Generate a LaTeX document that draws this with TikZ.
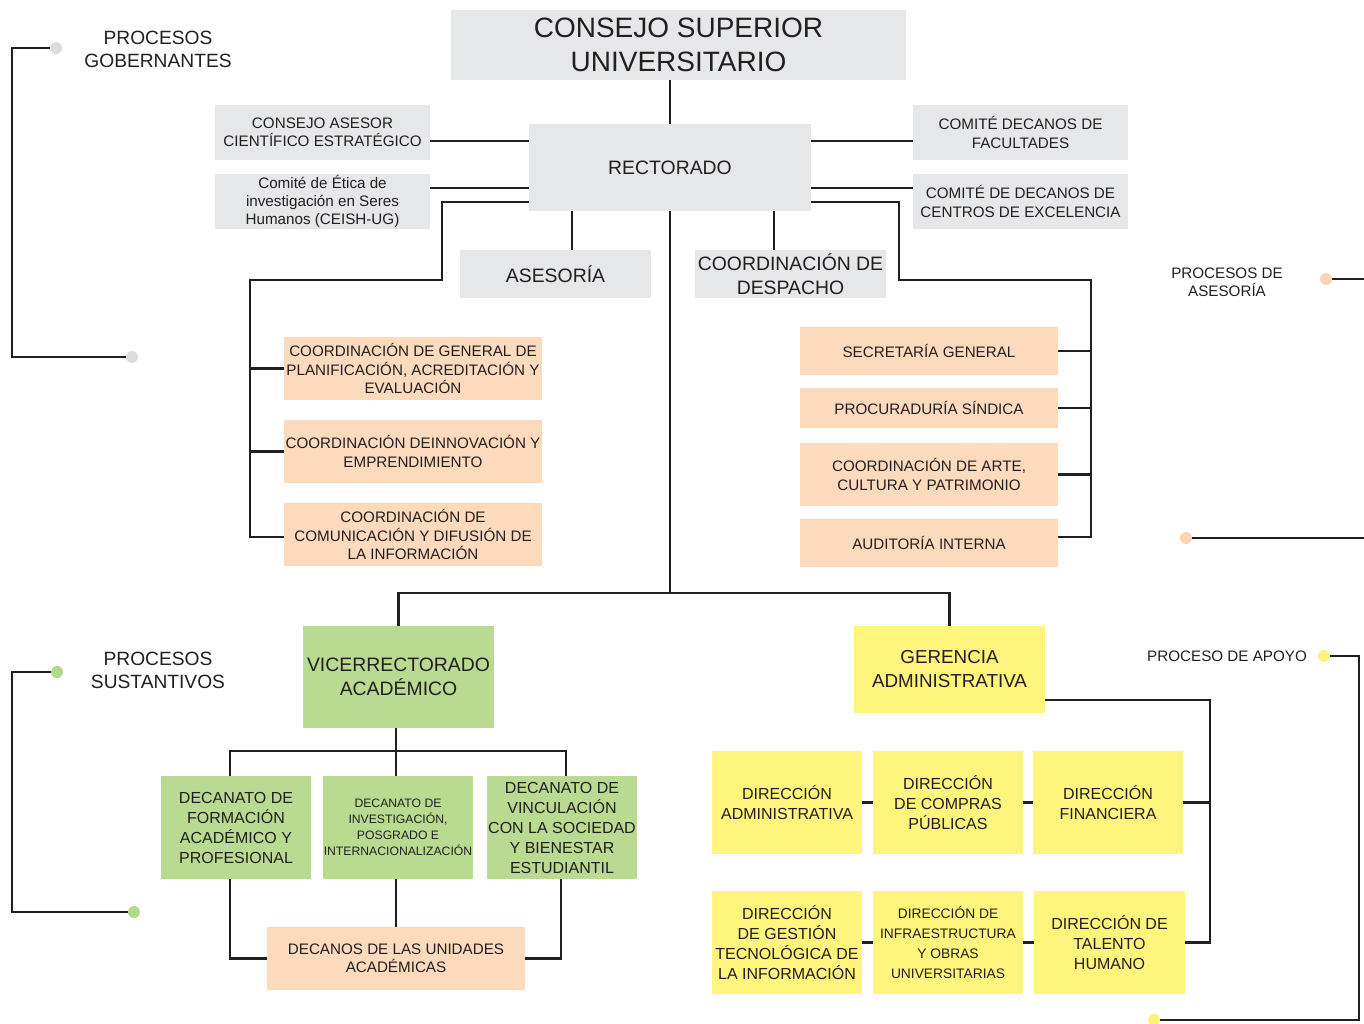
\documentclass[tikz,border=0pt]{standalone}
\usepackage{fontspec}
\setmainfont{Liberation Sans}
\usetikzlibrary{calc}

\definecolor{fgris}{HTML}{E6E7E8}
\definecolor{fnar}{HTML}{FDDABB}
\definecolor{fver}{HTML}{B9DA91}
\definecolor{fama}{HTML}{FFF47C}
\definecolor{tinta}{HTML}{231F20}
\definecolor{pgris}{HTML}{DCDDDE}
\definecolor{pnar}{HTML}{FDD5B4}
\definecolor{pver}{HTML}{B4D88C}
\definecolor{pama}{HTML}{FFF27A}

\tikzset{
  caja/.style={inner sep=0pt, align=center, text=tinta},
  bgris/.style={caja, fill=fgris},
  bnar/.style={caja, fill=fnar},
  bver/.style={caja, fill=fver},
  bama/.style={caja, fill=fama},
  linea/.style={draw=tinta, line width=1.25pt},
  chica/.style={font=\fontsize{7.6}{9.2}\selectfont},
  media/.style={font=\fontsize{8}{10}\selectfont},
  grande/.style={font=\fontsize{9.7}{12}\selectfont},
}

\begin{document}
\begin{tikzpicture}[x=0.5pt,y=-0.5pt]
        \useasboundingbox (0,0) rectangle (1364,1023);

        % consejo, rectorado y comites
        \node[bgris, minimum width=227.5pt, minimum height=35pt, font=\fontsize{14}{17}\selectfont] (csu) at (678.5,45) {CONSEJO SUPERIOR\\UNIVERSITARIO};
        \node[bgris, grande, minimum width=141pt, minimum height=43.5pt] (rect) at (670,167.5) {RECTORADO};
        \node[bgris, chica, minimum width=107.5pt, minimum height=27.5pt] (asesor) at (322.5,132.5) {CONSEJO ASESOR\\CIENTÍFICO ESTRATÉGICO};
        \node[bgris, chica, minimum width=107.5pt, minimum height=27.5pt] (etica) at (322.5,201.5) {Comité de Ética de\\investigación en Seres\\Humanos (CEISH-UG)};
        \node[bgris, chica, minimum width=107.5pt, minimum height=27.5pt] (facult) at (1020.5,132.5) {COMITÉ DECANOS DE\\FACULTADES};
        \node[bgris, chica, minimum width=107.5pt, minimum height=27.5pt] (centros) at (1020.5,201.5) {COMITÉ DE DECANOS DE\\CENTROS DE EXCELENCIA};
        \node[bgris, grande, minimum width=95.5pt, minimum height=24pt] (asesoria) at (555.5,274) {ASESORÍA};
        \node[bgris, grande, minimum width=95.5pt, minimum height=24pt] (despacho) at (790.5,274) {COORDINACIÓN DE\\DESPACHO};

        % coordinaciones
        \node[bnar, chica, minimum width=129pt, minimum height=31.5pt] (planif) at (413,368.5) {COORDINACIÓN DE GENERAL DE\\PLANIFICACIÓN, ACREDITACIÓN Y\\EVALUACIÓN};
        \node[bnar, chica, minimum width=129pt, minimum height=31.5pt] (innov) at (413,451.5) {COORDINACIÓN DEINNOVACIÓN Y\\EMPRENDIMIENTO};
        \node[bnar, chica, minimum width=129pt, minimum height=31.5pt] (comunic) at (413,534.5) {COORDINACIÓN DE\\COMUNICACIÓN Y DIFUSIÓN DE\\LA INFORMACIÓN};
        \node[bnar, chica, minimum width=129pt, minimum height=24pt] (secret) at (929,351) {SECRETARÍA GENERAL};
        \node[bnar, chica, minimum width=129pt, minimum height=20pt] (procur) at (929,408) {PROCURADURÍA SÍNDICA};
        \node[bnar, chica, minimum width=129pt, minimum height=31.5pt] (arte) at (929,474.5) {COORDINACIÓN DE ARTE,\\CULTURA Y PATRIMONIO};
        \node[bnar, chica, minimum width=129pt, minimum height=24pt] (audit) at (929,543) {AUDITORÍA INTERNA};

        % vicerrectorado
        \node[bver, grande, minimum width=95.5pt, minimum height=51pt] (vice) at (398.5,677) {VICERRECTORADO\\ACADÉMICO};
        \node[bver, media, minimum width=75pt, minimum height=51.5pt] (formac) at (236,827.5) {DECANATO DE\\FORMACIÓN\\ACADÉMICO Y\\PROFESIONAL};
        \node[bver, font=\fontsize{6.1}{8}\selectfont, minimum width=75pt, minimum height=51.5pt] (invest) at (398,827.5) {DECANATO DE\\INVESTIGACIÓN,\\POSGRADO E\\INTERNACIONALIZACIÓN};
        \node[bver, media, minimum width=75pt, minimum height=51.5pt] (vincul) at (562,827.5) {DECANATO DE\\VINCULACIÓN\\CON LA SOCIEDAD\\Y BIENESTAR\\ESTUDIANTIL};
        \node[bnar, chica, minimum width=129pt, minimum height=31.5pt] (unidades) at (396,958.5) {DECANOS DE LAS UNIDADES\\ACADÉMICAS};

        % gerencia
        \node[bama, font=\fontsize{9.4}{12}\selectfont, minimum width=95.5pt, minimum height=43.5pt] (geren) at (949.5,669.5) {GERENCIA\\ADMINISTRATIVA};
        \node[bama, media, minimum width=75pt, minimum height=51.5pt] (diradm) at (787,802.5) {DIRECCIÓN\\ADMINISTRATIVA};
        \node[bama, media, minimum width=75pt, minimum height=51.5pt] (dircomp) at (948,802.5) {DIRECCIÓN\\DE COMPRAS\\PÚBLICAS};
        \node[bama, media, minimum width=75pt, minimum height=51.5pt] (dirfin) at (1108,802.5) {DIRECCIÓN\\FINANCIERA};
        \node[bama, media, minimum width=75pt, minimum height=51.5pt] (dirtec) at (787,942.5) {DIRECCIÓN\\DE GESTIÓN\\TECNOLÓGICA DE\\LA INFORMACIÓN};
        \node[bama, font=\fontsize{6.9}{10}\selectfont, minimum width=75pt, minimum height=51.5pt] (dirinf) at (948,942.5) {DIRECCIÓN DE\\INFRAESTRUCTURA\\Y OBRAS\\UNIVERSITARIAS};
        \node[bama, media, minimum width=75.5pt, minimum height=51.5pt] (dirtal) at (1109.5,942.5) {DIRECCIÓN DE\\TALENTO\\HUMANO};

        % procesos
        \node[caja, font=\fontsize{9.6}{11.5}\selectfont] (tgob) at (158,49) {PROCESOS\\GOBERNANTES};
        \node[caja, font=\fontsize{7.6}{9}\selectfont] (tase) at (1227,282) {PROCESOS DE\\ASESORÍA};
        \node[caja, font=\fontsize{9.6}{11.5}\selectfont] (tsus) at (158,670) {PROCESOS\\SUSTANTIVOS};
        \node[caja, chica] (tapo) at (1227,656) {PROCESO DE APOYO};

        \coordinate (ya) at (0,141);
        \coordinate (yb) at (0,188);
        \coordinate (yc) at (0,202);
        \coordinate (xa) at (572,0);
        \coordinate (xd) at (774,0);
        \coordinate (lbend) at (442,280);
        \coordinate (lbar) at (250,280);
        \coordinate (lfin) at (250,537);
        \coordinate (rbend) at (899,280);
        \coordinate (rbar) at (1091,280);
        \coordinate (rfin) at (1091,537);
        \coordinate (mid) at (670,593);
        \coordinate (vl) at (230,751);
        \coordinate (vm) at (396,751);
        \coordinate (vr) at (566,751);
        \coordinate (ul) at (230,0);
        \coordinate (ur) at (561,0);
        \coordinate (gbar) at (1210,700);

        \draw[linea] (rect.north) -- (rect.north |- csu.south);
        \draw[linea] (asesor.east |- ya) -- (rect.west |- ya);
        \draw[linea] (etica.east |- yb) -- (rect.west |- yb);
        \draw[linea] (rect.east |- ya) -- (facult.west |- ya);
        \draw[linea] (rect.east |- yb) -- (centros.west |- yb);
        \draw[linea] (xa |- rect.south) -- (xa |- asesoria.north);
        \draw[linea] (xd |- rect.south) -- (xd |- despacho.north);

        \draw[linea] (rect.west |- yc) -| (lbend) -- (lbar) -- (lfin) -- (lfin -| comunic.west);
        \draw[linea] (planif.west) -- (planif.west -| lbar);
        \draw[linea] (innov.west) -- (innov.west -| lbar);
        \draw[linea] (rect.east |- yc) -| (rbend) -- (rbar) -- (rfin) -- (rfin -| audit.east);
        \draw[linea] (secret.east) -- (secret.east -| rbar);
        \draw[linea] (procur.east) -- (procur.east -| rbar);
        \draw[linea] (arte.east) -- (arte.east -| rbar);

        \draw[linea] (rect.south) -- (mid) -| (vice.north);
        \draw[linea] (mid) -| (geren.north);
        \draw[linea] (vm |- vice.south) -- (vm) -- (vm |- invest.north);
        \draw[linea] (vl |- formac.north) -- (vl) -- (vr) -- (vr |- vincul.north);
        \draw[linea] (ul |- formac.south) |- (unidades.west);
        \draw[linea] (vm |- invest.south) -- (vm |- unidades.north);
        \draw[linea] (ur |- vincul.south) |- (unidades.east);

        \draw[linea] (geren.east |- gbar) -- (gbar) |- (dirtal.east);
        \draw[linea] (dirfin.east) -- (dirfin.east -| gbar);
        \draw[linea] (diradm.east) -- (dircomp.west);
        \draw[linea] (dircomp.east) -- (dirfin.west);
        \draw[linea] (dirtec.east) -- (dirinf.west);
        \draw[linea] (dirinf.east) -- (dirtal.west);

        % corchetes de procesos
        \coordinate (esq) at (12,0);
        \coordinate (borde) at (1364,0);
        \coordinate (apoesq) at (1359,0);
        \coordinate (gob1) at (56,48);
        \coordinate (gob2) at (132,357);
        \coordinate (sus1) at (57,672);
        \coordinate (sus2) at (134,912);
        \coordinate (ase1) at (1326,279);
        \coordinate (ase2) at (1186,538);
        \coordinate (apo1) at (1324,656);
        \coordinate (apo2) at (1154,1020);

        \draw[linea] (gob1) -- (gob1 -| esq) |- (gob2);
        \draw[linea] (sus1) -- (sus1 -| esq) |- (sus2);
        \draw[linea] (ase1) -- (ase1 -| borde);
        \draw[linea] (ase2) -- (ase2 -| borde);
        \draw[linea] (apo1) -- (apo1 -| apoesq) |- (apo2);

        \fill[pgris] (gob1) circle (3pt);
        \fill[pgris] (gob2) circle (3pt);
        \fill[pver] (sus1) circle (3pt);
        \fill[pver] (sus2) circle (3pt);
        \fill[pnar] (ase1) circle (3pt);
        \fill[pnar] (ase2) circle (3pt);
        \fill[pama] (apo1) circle (3pt);
        \fill[pama] (apo2) circle (3pt);

    \end{tikzpicture}
\end{document}
